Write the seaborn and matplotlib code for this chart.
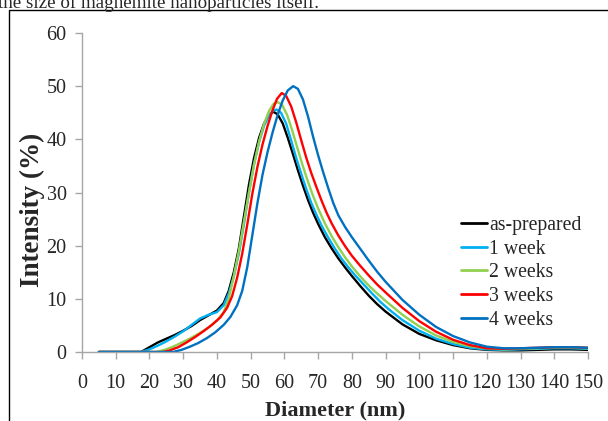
import pandas as pd
import seaborn as sns
import matplotlib
matplotlib.use("Agg")
import matplotlib.pyplot as plt
from matplotlib.patches import Rectangle

# DLS size distributions (diameter in nm, intensity in %)
x_asprep = [5, 10, 15, 17.5, 20, 22.5, 25, 27.5, 30, 32.5, 35, 37.5, 40, 42, 43.5, 45, 46.5, 48,
            49.5, 51, 52.5, 54, 55.5, 56.7, 58, 59.5, 61, 62.5, 64, 65.5, 67, 68.5, 70, 72, 74, 76,
            78, 80, 82.5, 85, 87.5, 90, 95, 100, 105, 110, 115, 120, 125, 130, 135, 140, 145, 150]
y_asprep = [0, 0, 0, 0, 0.9, 1.8, 2.5, 3.2, 4.0, 4.9, 6.0, 6.9, 7.8, 9.2, 11.5, 15, 19.5, 25.5,
            31.5, 36.5, 40.3, 43, 44.6, 45.2, 44.7, 43, 40.3, 37.3, 34.2, 31.3, 28.6, 26.2, 24.1, 21.6, 19.5, 17.6,
            15.9, 14.3, 12.4, 10.6, 9.0, 7.6, 5.2, 3.4, 2.2, 1.3, 0.7, 0.4, 0.3, 0.3, 0.4, 0.5, 0.5, 0.4]

x_1week = [5, 10, 15, 17.5, 20, 22.5, 25, 27.5, 30, 32.5, 35, 37.5, 40, 42, 43.5, 45, 46.5, 48,
           49.5, 51, 52.5, 54, 55.5, 56.7, 57.7, 59, 60.5, 62, 63.5, 65, 66.5, 68, 69.5, 71, 73, 75,
           77, 79, 81, 83.5, 86, 88.5, 91, 95, 100, 105, 110, 115, 120, 125, 130, 135, 140, 145, 150]
y_1week = [0, 0, 0, 0, 0.5, 1.2, 2.0, 2.9, 3.9, 5.1, 6.3, 7.0, 7.5, 8.8, 11, 14.2, 18.5, 24,
           30, 35.3, 39.5, 42.6, 44.6, 45.4, 45.6, 45, 43, 39.8, 36.5, 33.5, 30.6, 28, 25.8, 23.8, 21.5, 19.4,
           17.5, 15.9, 14.4, 12.7, 11, 9.4, 8.0, 6.0, 4.0, 2.5, 1.5, 0.8, 0.5, 0.4, 0.5, 0.6, 0.7, 0.7, 0.6]

x_2weeks = [5, 10, 15, 20, 22, 24.5, 27, 30, 32.5, 35, 37.5, 40, 42, 43.5, 45, 46.5, 48, 49.5, 51,
            52.5, 54, 55.5, 56.8, 58, 59.3, 60.8, 62.3, 63.8, 65.3, 66.8, 68.3, 70, 72, 74, 76, 78,
            80, 82.5, 85, 87.5, 90, 95, 100, 105, 110, 115, 120, 125, 130, 135, 140, 145, 150]
y_2weeks = [0, 0, 0, 0, 0, 0.4, 1.0, 1.9, 2.7, 3.6, 4.6, 5.9, 7.5, 10, 14.3, 19, 24.5, 30, 35.3,
            39.6, 43, 45.4, 46.7, 47, 46.5, 44.6, 41.7, 38.5, 35.3, 32.4, 29.7, 27, 24.2, 21.8, 19.7, 17.8,
            16.1, 14.2, 12.5, 11, 9.6, 7.0, 4.8, 3.1, 1.9, 1.1, 0.7, 0.5, 0.6, 0.7, 0.8, 0.8, 0.7]

x_3weeks = [5, 10, 15, 20, 24, 26, 28.5, 31, 33.5, 36, 38.5, 41, 43, 44.5, 46, 47.5, 49, 50.5, 52,
            53.5, 55, 56.5, 57.8, 59.2, 60.5, 62, 63.5, 65, 66.5, 68, 69.5, 71, 72.5, 74, 76, 78, 80,
            82.5, 85, 87.5, 90, 95, 100, 105, 110, 115, 120, 125, 130, 135, 140, 145, 150]
y_3weeks = [0, 0, 0, 0, 0, 0.3, 0.9, 1.8, 2.8, 3.9, 5.1, 6.5, 8.3, 10.5, 14, 18.5, 24, 29.8, 34.8,
            39, 42.5, 45.5, 47.6, 48.7, 48.2, 46.2, 43.2, 39.8, 36.5, 33.6, 31, 28.5, 26.2, 24.2, 21.9, 19.9, 18.1,
            16.2, 14.4, 12.7, 11.2, 8.3, 5.8, 3.8, 2.3, 1.3, 0.7, 0.6, 0.7, 0.8, 0.9, 0.9, 0.8]

x_4weeks = [5, 10, 15, 20, 27, 29.5, 32, 34.5, 37, 39.5, 42, 44, 46, 47.5, 49, 50.5, 52, 53.5, 55,
            56.5, 58, 59.5, 61, 62.6, 64, 65.5, 67, 68.5, 70, 71.5, 73, 74.5, 76, 78, 80, 82.5, 85,
            87.5, 90, 95, 100, 105, 110, 115, 120, 125, 130, 135, 140, 145, 150]
y_4weeks = [0, 0, 0, 0, 0, 0.4, 1.0, 1.7, 2.6, 3.7, 5.1, 6.6, 8.8, 11.5, 16, 22, 28, 33.3, 37.6,
            41.3, 44.6, 47.3, 49.2, 50, 49.5, 47.5, 44.3, 40.5, 37, 33.8, 30.8, 28, 25.7, 23.5, 21.6, 19.4, 17.2,
            15.1, 13.2, 9.8, 7.0, 4.7, 3.0, 1.8, 1.0, 0.7, 0.7, 0.8, 0.9, 0.9, 0.8]

labels = ["as-prepared", "1 week", "2 weeks", "3 weeks", "4 weeks"]
colors = ["#000000", "#00B0F0", "#92D050", "#FF0000", "#0070C0"]

series = [(x_asprep, y_asprep), (x_1week, y_1week), (x_2weeks, y_2weeks),
          (x_3weeks, y_3weeks), (x_4weeks, y_4weeks)]
df = pd.concat([pd.DataFrame({"Diameter": xs, "Intensity": ys, "Sample": lab})
                for (xs, ys), lab in zip(series, labels)], ignore_index=True)

sns.set_style("white")
plt.rcParams["font.family"] = ["Liberation Serif", "DejaVu Serif"]

fig = plt.figure(figsize=(6.08, 4.21), dpi=100)
ax = fig.add_axes([82 / 608, 1 - 352 / 421, (588 - 82) / 608, (352 - 33) / 421])

sns.lineplot(data=df, x="Diameter", y="Intensity", hue="Sample", hue_order=labels,
             palette=dict(zip(labels, colors)), sort=False, estimator=None,
             linewidth=1.7, ax=ax)
for line in ax.get_lines():
    line.set_solid_joinstyle("round")

ax.set_xlim(0, 150)
ax.set_ylim(0, 60)
ax.set_xticks(range(0, 151, 10))
ax.set_yticks(range(0, 61, 10))
ax.tick_params(axis="both", which="both", labelsize=14.5, length=5, width=1,
               color="#a6a6a6", direction="out", bottom=True, left=True)
ax.tick_params(axis="x", pad=11)
ax.tick_params(axis="y", pad=6)
for side in ["top", "right"]:
    ax.spines[side].set_visible(False)
for side in ["left", "bottom"]:
    ax.spines[side].set_color("#a6a6a6")
    ax.spines[side].set_linewidth(1)
ax.set_xlabel("Diameter (nm)", fontsize=16, fontweight="bold", labelpad=5)
ax.set_ylabel("Intensity (%)", fontsize=19.5, fontweight="bold")
ax.yaxis.set_label_coords(-0.073, 0.445)

ax.legend(loc="upper left", bbox_to_anchor=(451 / 608, 1 - 206 / 421),
          bbox_transform=fig.transFigure, frameon=False, fontsize=14.2,
          handlelength=1.3, handletextpad=0.15, labelspacing=0.24, borderpad=0)
for line in ax.get_legend().get_lines():
    line.set_linewidth(2)

# page frame and cropped caption text from the source document
fig.patches.append(Rectangle((9 / 608, -0.2), 1.2, 1.2 - 10 / 421, transform=fig.transFigure,
                             fill=False, edgecolor="black", linewidth=1))
fig.text(-2 / 608, 1 - 8 / 421, "the size of maghemite nanoparticles itself.", fontsize=13.7,
         ha="left", va="baseline")

fig.savefig("out.png", dpi=100)
